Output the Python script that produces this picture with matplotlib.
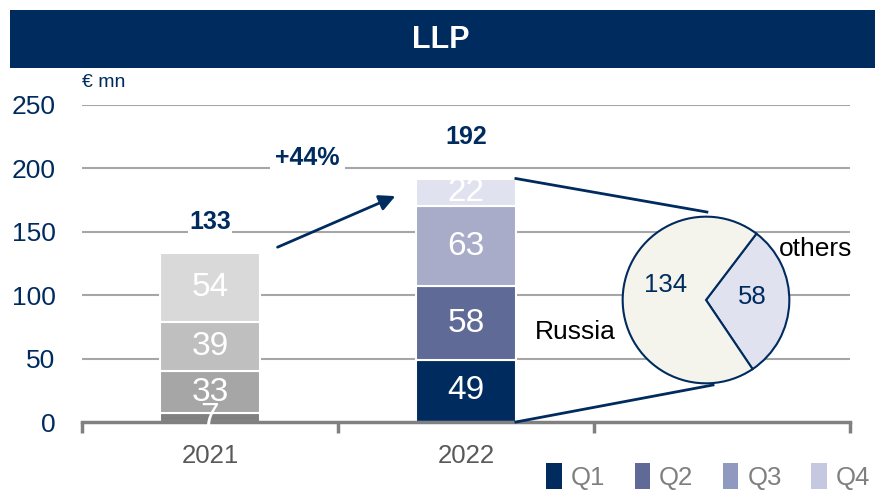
import numpy as np
import matplotlib.pyplot as plt
from matplotlib.patches import Rectangle, Patch

plt.rcParams['font.family'] = ['Liberation Sans', 'DejaVu Sans']

# data
years = ['2021', '2022', '']
quarters = ['Q1', 'Q2', 'Q3', 'Q4']
q_2021 = [7, 33, 39, 54]
q_2022 = [49, 58, 63, 22]
totals = [133, 192]
growth = '+44%'
pie_labels = ['others', 'Russia']
pie_values = [58, 134]

navy = '#002b5f'
grey_cols = ['#808080', '#a6a6a6', '#bfbfbf', '#d9d9d9']
blue_cols = ['#002b5f', '#5f6a96', '#a9acc9', '#e0e2ef']
legend_cols = ['#002b5f', '#5f6a96', '#9099bf', '#c5c8e0']

W, H = 875, 493
fig = plt.figure(figsize=(W / 100, H / 100), dpi=100)

def fx(px):
    return px / W

def fy(py):
    return 1 - py / H

# title banner
fig.add_artist(Rectangle((fx(10), fy(68)), fx(865), 58 / H, transform=fig.transFigure,
                         color=navy, lw=0))
fig.text(fx(441), fy(40), 'LLP', color='white', fontsize=22, fontweight='bold',
         ha='center', va='center')

ax = fig.add_axes([fx(82), fy(422), fx(768), 317 / H])
ax.set_xlim(-0.5, 2.5)
ax.set_ylim(0, 250)
for s in ['top', 'right', 'left']:
    ax.spines[s].set_visible(False)
ax.spines['bottom'].set_color('#808080')
ax.spines['bottom'].set_linewidth(2.5)
ax.set_yticks(np.arange(0, 251, 50))
ax.tick_params(axis='y', length=0, pad=19, labelsize=19, labelcolor=navy)
for v in range(50, 251, 50):
    ax.axhline(v, color='#a6a6a6', lw=1.5, zorder=0)

# x ticks at category borders, labels at centres
ax.set_xticks([-0.5, 0.5, 1.5, 2.5])
ax.set_xticklabels([])
ax.tick_params(axis='x', length=8, width=2.5, color='#808080', direction='out')
for i, yr in enumerate(years[:2]):
    ax.text(i, -17, yr, ha='center', va='top', fontsize=18.5, color='#595959')

w = 0.39
label_gap = [15, 23]
for i, (vals, cols) in enumerate([(q_2021, grey_cols), (q_2022, blue_cols)]):
    bottom = 0
    for v, c in zip(vals, cols):
        ax.bar(i, v, w, bottom=bottom, color=c, edgecolor='white', lw=1.5, zorder=2)
        ax.text(i, bottom + v / 2, str(v), ha='center', va='center', color='white',
                fontsize=24, zorder=3)
        bottom += v
    ax.text(i, totals[i] + label_gap[i], str(totals[i]), ha='center', va='bottom', color=navy,
            fontsize=18, fontweight='bold',
            bbox=dict(facecolor='white', edgecolor='none', pad=1), zorder=3)

# growth arrow
ax.annotate('', xy=(0.734, 179), xytext=(0.254, 137),
            arrowprops=dict(arrowstyle='-|>', color=navy, lw=2, mutation_scale=24))
ax.text(0.38, 208, growth, ha='center', va='center', color=navy, fontsize=18,
        fontweight='bold', bbox=dict(facecolor='white', edgecolor='none', pad=4), zorder=3)

# connectors from 2022 bar to pie
ax.plot([1 + w / 2, 1.941], [totals[1], 165.6], color=navy, lw=2, clip_on=False, zorder=3)
ax.plot([1 + w / 2, 1.965], [0, 29.2], color=navy, lw=2, clip_on=False, zorder=3)

ax.text(-0.5, 261, '€ mn', ha='left', va='bottom', fontsize=14, color=navy)

# pie
pax = fig.add_axes([fx(606), fy(400), fx(200), 200 / H])
pax.set_aspect('equal')
wedges, _ = pax.pie(pie_values, colors=['#e0e2ef', '#f5f4ec'], startangle=-56,
                    radius=1, counterclock=True,
                    wedgeprops=dict(edgecolor=navy, linewidth=1.5))
pax.set_xlim(-1.2, 1.2)
pax.set_ylim(-1.2, 1.2)
pax.axis('off')
pax.text(-0.48, 0.18, str(pie_values[1]), ha='center', va='center', fontsize=18.5, color=navy)
pax.text(0.55, 0.03, str(pie_values[0]), ha='center', va='center', fontsize=18.5, color=navy)
fig.text(fx(575), fy(332), pie_labels[1], ha='center', va='center', fontsize=19, color='black')
fig.text(fx(816), fy(249), pie_labels[0], ha='center', va='center', fontsize=19, color='black')

# legend
handles = [Patch(facecolor=c, edgecolor='none') for c in legend_cols]
leg = fig.legend(handles, quarters, loc='lower right', bbox_to_anchor=(1.012, -0.025),
                 ncol=4, frameon=False, fontsize=18.5, handlelength=0.6, handleheight=1.2,
                 handletextpad=0.35, columnspacing=1.15, borderaxespad=0.2)
for t in leg.get_texts():
    t.set_color('#7f7f7f')

fig.savefig('out.png', dpi=100)
